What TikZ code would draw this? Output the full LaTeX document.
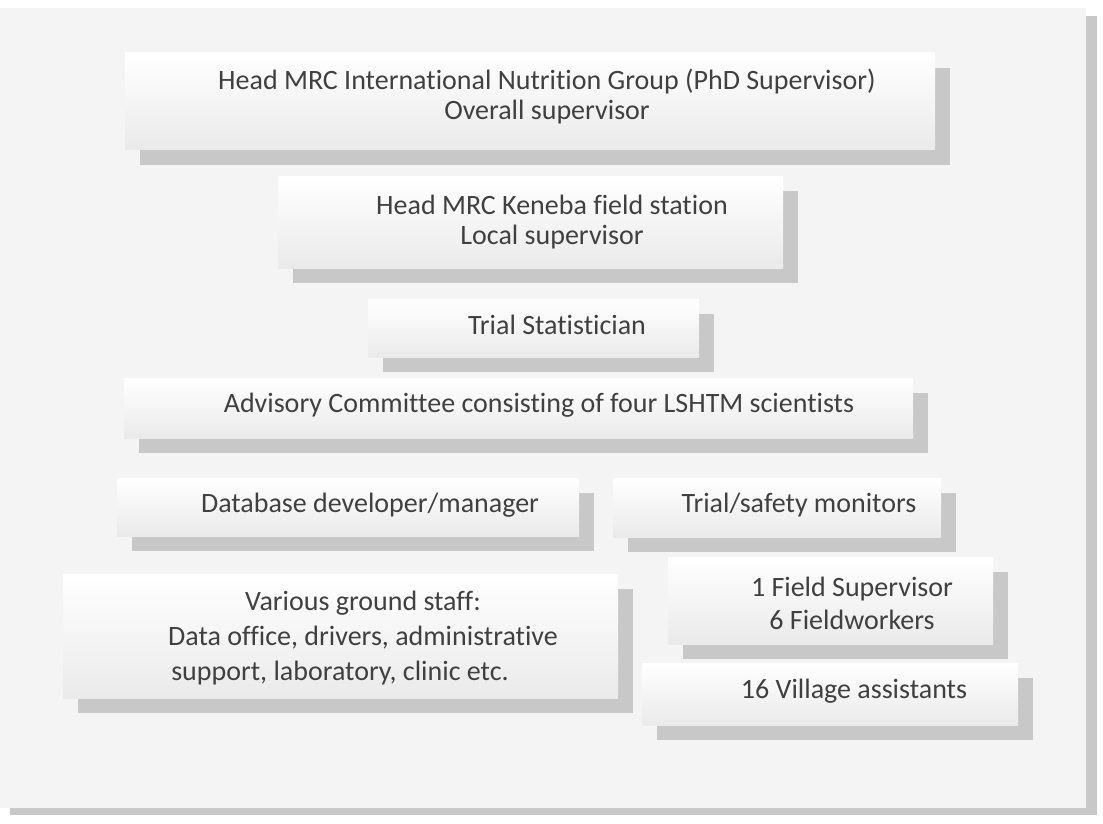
\documentclass[tikz,border=0pt]{standalone}
\usepackage{fontspec}
\setmainfont{Carlito}[Ligatures=NoCommon]
\usetikzlibrary{shadows}
\definecolor{panel}{HTML}{F4F4F4}
\definecolor{rim}{HTML}{C8C8C8}
\definecolor{ink}{HTML}{404040}
\definecolor{boxlow}{HTML}{EAEAEA}

\begin{document}
\begin{tikzpicture}[x=1pt, y=-1pt,
		orgbox/.style={rectangle, inner sep=0pt, top color=white, bottom color=boxlow,
			drop shadow={shadow xshift=15pt, shadow yshift=-15pt, fill=rim, opacity=1}},
		lbl/.style={text=ink, align=center, inner sep=0pt,
			font=\fontsize{28}{34}\selectfont}]
		\useasboundingbox (0,0) rectangle (1103,824);
		\fill[white] (0,0) rectangle (1103,824);
		\fill[rim] (10,16) rectangle (1097,815);
		\fill[panel] (0,8) rectangle (1086,808);
		%
		\node[orgbox, minimum width=810pt, minimum height=97pt] (overallbox) at (530,101.5) {};
		\node[lbl, font=\fontsize{28}{30}\selectfont] (overall) at (547,97) {Head MRC International Nutrition Group (PhD Supervisor)\\Overall supervisor};
		%
		\node[orgbox, minimum width=505pt, minimum height=92pt] (localbox) at (530.5,222) {};
		\node[lbl, font=\fontsize{28}{30}\selectfont] (local) at (552,222.5) {Head MRC Keneba field station\\Local supervisor};
		%
		\node[orgbox, minimum width=331pt, minimum height=58pt] (statbox) at (533.5,328) {};
		\node[lbl] (stat) at (557,325) {Trial Statistician};
		%
		\node[orgbox, minimum width=789pt, minimum height=60pt] (advisebox) at (518.5,408) {};
		\node[lbl] (advise) at (539,405) {Advisory Committee consisting of four LSHTM scientists};
		%
		\node[orgbox, minimum width=462pt, minimum height=58pt] (databox) at (348,507) {};
		\node[lbl] (data) at (370,505) {Database developer/manager};
		%
		\node[orgbox, minimum width=328pt, minimum height=59pt] (monitorbox) at (777,507.5) {};
		\node[lbl] (monitor) at (799,505) {Trial/safety monitors};
		%
		\node[orgbox, minimum width=555pt, minimum height=124pt] (groundbox) at (340.5,636) {};
		\node[lbl, font=\fontsize{28}{35}\selectfont] (ground) at (363,638) {Various ground staff:\\Data office, drivers, administrative\\support, laboratory, clinic etc.\hspace*{46pt}};
		%
		\node[orgbox, minimum width=325pt, minimum height=87pt] (fieldbox) at (830.5,600.5) {};
		\node[lbl, font=\fontsize{28}{33}\selectfont] (field) at (852,603.5) {1 Field Supervisor\\6 Fieldworkers};
		%
		\node[orgbox, minimum width=376pt, minimum height=62pt] (villagebox) at (830,694) {};
		\node[lbl] (village) at (854,691) {16 Village assistants};
	\end{tikzpicture}
\end{document}
